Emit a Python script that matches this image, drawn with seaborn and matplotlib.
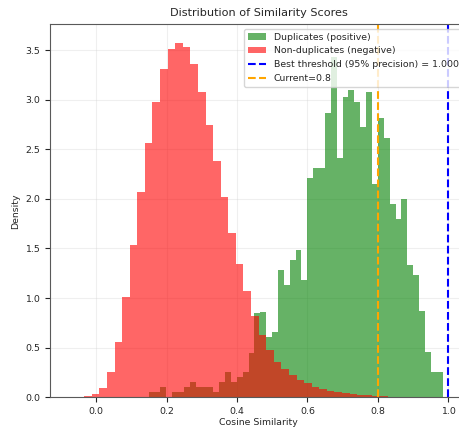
import numpy as np
import matplotlib
matplotlib.use("Agg")
import matplotlib.pyplot as plt
import seaborn as sns

# bin layout (50 bins per class)
n_bins = 50
neg_range = (-0.077, 1.0)
pos_range = (0.149, 0.984)

# density per bin, left to right
neg_density = [0.0, 0.004, 0.01, 0.03, 0.09, 0.255, 0.56, 1.01, 1.535, 2.065,
               2.56, 2.98, 3.305, 3.51, 3.575, 3.53, 3.36, 3.08, 2.745, 2.38,
               2.02, 1.66, 1.34, 1.07, 0.82, 0.63, 0.48, 0.36, 0.29, 0.225,
               0.175, 0.14, 0.107, 0.084, 0.063, 0.05, 0.04, 0.033, 0.026, 0.02,
               0.015, 0.011, 0.008, 0.006, 0.004, 0.003, 0.002, 0.001, 0.001, 0.0]
pos_density = [0.05, 0.05, 0.10, 0.0, 0.05, 0.05, 0.10, 0.15, 0.10, 0.10,
               0.10, 0.05, 0.15, 0.25, 0.15, 0.20, 0.25, 0.45, 0.85, 0.86,
               0.61, 0.66, 1.28, 1.13, 1.38, 1.48, 1.18, 2.21, 2.31, 2.31,
               2.87, 3.43, 2.415, 3.03, 3.10, 2.98, 2.72, 3.08, 2.15, 2.82,
               2.61, 1.95, 1.80, 2.00, 1.33, 1.23, 0.87, 0.46, 0.26, 0.26]

best_thr = 1.0
current_thr = 0.8

sns.set_style("ticks")
plt.rcParams["font.family"] = ["DejaVu Sans"]
plt.rcParams["font.size"] = 6.75


def centers(rng, n):
    edges = np.linspace(rng[0], rng[1], n + 1)
    return (edges[:-1] + edges[1:]) / 2


fig = plt.figure(figsize=(4.6, 4.29), dpi=100)
ax = fig.add_axes([0.1087, 0.0739, 0.907, 0.8695])

sns.histplot(x=centers(pos_range, n_bins), weights=pos_density, bins=n_bins,
             binrange=pos_range, color="green", alpha=0.6, linewidth=0,
             label="Duplicates (positive)", ax=ax)
sns.histplot(x=centers(neg_range, n_bins), weights=neg_density, bins=n_bins,
             binrange=neg_range, color="red", alpha=0.6, linewidth=0,
             label="Non-duplicates (negative)", ax=ax)

ax.axvline(best_thr, color="blue", linestyle="--", linewidth=1.5,
           label=f"Best threshold (95% precision) = {best_thr:.3f}")
ax.axvline(current_thr, color="orange", linestyle="--", linewidth=1.5,
           label=f"Current={current_thr}")

ax.set_xlim(-0.131, 1.054)
ax.set_ylim(0, 3.76)
ax.set_xlabel("Cosine Similarity", labelpad=1.5)
ax.set_ylabel("Density")
ax.set_title("Distribution of Similarity Scores")
ax.grid(True, alpha=0.3)
for s in ax.spines.values():
    s.set_color("0.35")

# histograms first, then threshold lines
handles, labels = ax.get_legend_handles_labels()
order = [labels.index(l) for l in ["Duplicates (positive)", "Non-duplicates (negative)"]]
order += [i for i in range(len(labels)) if i not in order]
ax.legend([handles[i] for i in order], [labels[i] for i in order], loc="upper right")

fig.savefig("out.png", dpi=100)
